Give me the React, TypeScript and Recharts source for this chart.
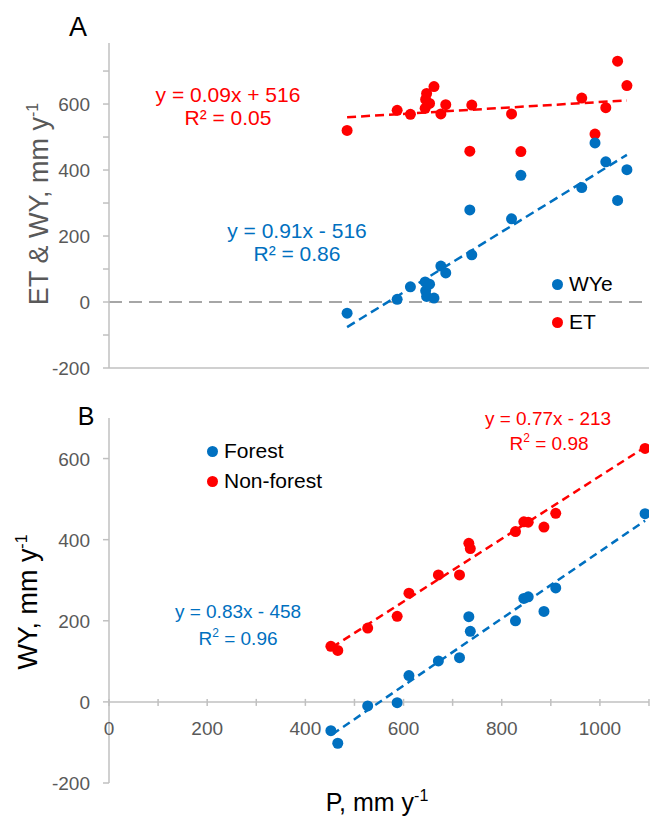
import React from "react";
import { ScatterChart, Scatter, XAxis, YAxis, ReferenceLine, Legend } from "recharts";

// ---- panel A: precipitation vs ET and WYe (catchments) ----
const pA = [485, 587, 614, 644, 645, 647, 653, 662, 676, 686, 735, 739, 820, 839, 963, 990, 1012, 1036, 1055];
const etA = [520, 581, 569, 587, 614, 632, 602, 653, 570, 598, 457, 597, 570, 456, 618, 509, 589, 730, 656];
const wyeA = [-34, 8, 46, 61, 34, 17, 54, 12, 109, 88, 279, 143, 252, 384, 347, 482, 425, 308, 401];

// fitted lines, end points
const trendEtX = [485, 1055];
const trendEtY = [560, 611];
const trendWyeX = [485, 1055];
const trendWyeY = [-76, 446];

// ---- panel B: precipitation vs WY, forest / non-forest ----
const pB = [452, 466, 527, 587, 611, 671, 714, 733, 736, 828, 845, 854, 886, 910, 1092];
const forestB = [-71, -102, -10, -2, 65, 101, 109, 210, 174, 200, 255, 259, 223, 281, 464];
const nonForestB = [137, 127, 182, 211, 268, 313, 313, 391, 378, 420, 444, 443, 431, 465, 625];

const trendForestX = [455, 1092];
const trendForestY = [-80, 447];
const trendNonForestX = [455, 1092];
const trendNonForestY = [135, 628];

const xTicks = [0, 100, 200, 300, 400, 500, 600, 700, 800, 900, 1000, 1100];
const topYTicks = [-200, -100, 0, 100, 200, 300, 400, 500, 600, 700];
const bottomYTicks = [-200, 0, 200, 400, 600];

const legendA = ["WYe", "ET"];
const legendB = ["Forest", "Non-forest"];

const BLUE = "#0070c0";
const RED = "#ff0000";
const AXIS = "#c0c0c0";
const GREY_TXT = "#595959";
const FONT = "'Liberation Sans', Arial, sans-serif";

// bottom chart geometry (plot height and y domain) used to lift the x ticks to y = 0
const B_PLOT_H = 365;
const B_ZERO_OFFSET = (B_PLOT_H * 200) / 900;

const toPts = (xs: number[], ys: number[]) => xs.map((x, i) => ({ x, y: ys[i] }));

const dot = (color: string) => (p: any) => <circle cx={p.cx} cy={p.cy} r={5.5} fill={color} />;
const noDot = () => <g />;

function TopYTick(props: any) {
  const { x, y, payload } = props;
  if (payload.value % 200 !== 0) return <g />;
  return (
    <text x={x} y={y} dy={7} textAnchor="end" fill={GREY_TXT} fontSize={19} fontFamily={FONT}>
      {payload.value}
    </text>
  );
}

function BottomYTick(props: any) {
  const { x, y, payload } = props;
  return (
    <text x={x} y={y} dy={7} textAnchor="end" fill={GREY_TXT} fontSize={19} fontFamily={FONT}>
      {payload.value}
    </text>
  );
}

function BottomXTick(props: any) {
  const { x, y, payload } = props;
  const y0 = y - B_ZERO_OFFSET;
  return (
    <g>
      <line x1={x} x2={x} y1={y0 - 3} y2={y0 + 4} stroke={AXIS} strokeWidth={1.5} />
      {payload.value % 200 === 0 && (
        <text x={x} y={y0 + 33} textAnchor="middle" fill={GREY_TXT} fontSize={19} fontFamily={FONT}>
          {payload.value}
        </text>
      )}
    </g>
  );
}

const legendContent = (names: string[], colors: string[], rowH: number) => () => (
  <div style={{ fontFamily: FONT, fontSize: 21, color: "#000" }}>
    {names.map((n, i) => (
      <div key={n} style={{ display: "flex", alignItems: "center", height: rowH }}>
        <span
          style={{ width: 11, height: 11, borderRadius: "50%", background: colors[i], marginRight: 6 }}
        />
        {n}
      </div>
    ))}
  </div>
);

const sup = (t: string) => (
  <tspan dy={-10} fontSize={16}>
    {t}
  </tspan>
);

export default function App() {
  return (
    <div style={{ position: "absolute", left: 0, top: 0, width: 662, height: 818, background: "#fff" }}>
      {/* panel A */}
      <div style={{ position: "absolute", left: 0, top: 0 }}>
        <ScatterChart width={662} height={400} margin={{ top: 43, right: 13, bottom: 12, left: 49 }}>
          <XAxis
            type="number"
            dataKey="x"
            domain={[0, 1100]}
            ticks={xTicks}
            interval={0}
            allowDataOverflow
            tick={false}
            tickSize={5}
            height={20}
            axisLine={{ stroke: AXIS, strokeWidth: 1.5 }}
            tickLine={{ stroke: AXIS, strokeWidth: 1.5 }}
          />
          <YAxis
            type="number"
            dataKey="y"
            domain={[-200, 785]}
            ticks={topYTicks}
            interval={0}
            allowDataOverflow
            width={60}
            tickSize={6}
            tickMargin={13}
            tick={<TopYTick />}
            axisLine={{ stroke: AXIS, strokeWidth: 1.5 }}
            tickLine={{ stroke: AXIS, strokeWidth: 1.5 }}
          />
          <ReferenceLine y={0} stroke="#a6a6a6" strokeWidth={2} strokeDasharray="13 7" />
          <Scatter
            data={toPts(trendEtX, trendEtY)}
            line={{ stroke: RED, strokeWidth: 2.5, strokeDasharray: "9 5" }}
            shape={noDot}
            legendType="none"
            isAnimationActive={false}
          />
          <Scatter
            data={toPts(trendWyeX, trendWyeY)}
            line={{ stroke: BLUE, strokeWidth: 2.5, strokeDasharray: "9 5" }}
            shape={noDot}
            legendType="none"
            isAnimationActive={false}
          />
          <Scatter name="ET" data={toPts(pA, etA)} fill={RED} shape={dot(RED)} isAnimationActive={false} />
          <Scatter name="WYe" data={toPts(pA, wyeA)} fill={BLUE} shape={dot(BLUE)} isAnimationActive={false} />
          <Legend
            layout="vertical"
            align="center"
            verticalAlign="middle"
            content={legendContent(legendA, [BLUE, RED], 38)}
            wrapperStyle={{ left: 552, top: 265, width: 100 }}
          />
        </ScatterChart>
      </div>

      {/* panel B */}
      <div style={{ position: "absolute", left: 0, top: 400 }}>
        <ScatterChart width={662} height={418} margin={{ top: 18, right: 13, bottom: 15, left: 49 }}>
          <XAxis
            type="number"
            dataKey="x"
            domain={[0, 1100]}
            ticks={xTicks}
            interval={0}
            allowDataOverflow
            height={20}
            tickSize={0}
            tickMargin={0}
            axisLine={false}
            tickLine={false}
            tick={<BottomXTick />}
          />
          <YAxis
            type="number"
            dataKey="y"
            domain={[-200, 700]}
            ticks={bottomYTicks}
            interval={0}
            allowDataOverflow
            width={60}
            tickSize={6}
            tickMargin={13}
            tick={<BottomYTick />}
            axisLine={{ stroke: AXIS, strokeWidth: 1.5 }}
            tickLine={{ stroke: AXIS, strokeWidth: 1.5 }}
          />
          <ReferenceLine y={0} stroke={AXIS} strokeWidth={1.5} />
          <Scatter
            data={toPts(trendNonForestX, trendNonForestY)}
            line={{ stroke: RED, strokeWidth: 2.5, strokeDasharray: "8 5" }}
            shape={noDot}
            legendType="none"
            isAnimationActive={false}
          />
          <Scatter
            data={toPts(trendForestX, trendForestY)}
            line={{ stroke: BLUE, strokeWidth: 2.5, strokeDasharray: "8 5" }}
            shape={noDot}
            legendType="none"
            isAnimationActive={false}
          />
          <Scatter name="Forest" data={toPts(pB, forestB)} fill={BLUE} shape={dot(BLUE)} isAnimationActive={false} />
          <Scatter
            name="Non-forest"
            data={toPts(pB, nonForestB)}
            fill={RED}
            shape={dot(RED)}
            isAnimationActive={false}
          />
          <Legend
            layout="vertical"
            align="center"
            verticalAlign="middle"
            content={legendContent(legendB, [BLUE, RED], 30)}
            wrapperStyle={{ left: 207, top: 36, width: 140 }}
          />
        </ScatterChart>
      </div>

      {/* titles and regression labels */}
      <svg
        width={662}
        height={818}
        style={{ position: "absolute", left: 0, top: 0, pointerEvents: "none" }}
        fontFamily={FONT}
      >
        <text x={78} y={36} textAnchor="middle" fontSize={27} fill="#000">A</text>
        <text x={86} y={425} textAnchor="middle" fontSize={25} fill="#000">B</text>

        <text transform="translate(48,204) rotate(-90)" textAnchor="middle" fontSize={27} fill={GREY_TXT}>
          ET &amp; WY, mm y{sup("-1")}
        </text>
        <text transform="translate(37,602) rotate(-90)" textAnchor="middle" fontSize={27} fill="#000">
          WY, mm y{sup("-1")}
        </text>
        <text x={377} y={811} textAnchor="middle" fontSize={25} fill="#000">
          P, mm y{sup("-1")}
        </text>

        <text x={228} y={102} textAnchor="middle" fontSize={21} fill={RED}>y = 0.09x + 516</text>
        <text x={228} y={125} textAnchor="middle" fontSize={21} fill={RED}>R² = 0.05</text>
        <text x={297} y={238} textAnchor="middle" fontSize={21} fill={BLUE}>y = 0.91x - 516</text>
        <text x={297} y={261} textAnchor="middle" fontSize={21} fill={BLUE}>R² = 0.86</text>

        <text x={548} y={425} textAnchor="middle" fontSize={19} fill={RED}>y = 0.77x - 213</text>
        <text x={549} y={450} textAnchor="middle" fontSize={19} fill={RED}>
          R<tspan dy={-8} fontSize={12}>2</tspan>
          <tspan dy={8}> = 0.98</tspan>
        </text>
        <text x={238} y={618} textAnchor="middle" fontSize={19} fill={BLUE}>y = 0.83x - 458</text>
        <text x={238} y={645} textAnchor="middle" fontSize={19} fill={BLUE}>
          R<tspan dy={-8} fontSize={12}>2</tspan>
          <tspan dy={8}> = 0.96</tspan>
        </text>
      </svg>
    </div>
  );
}
